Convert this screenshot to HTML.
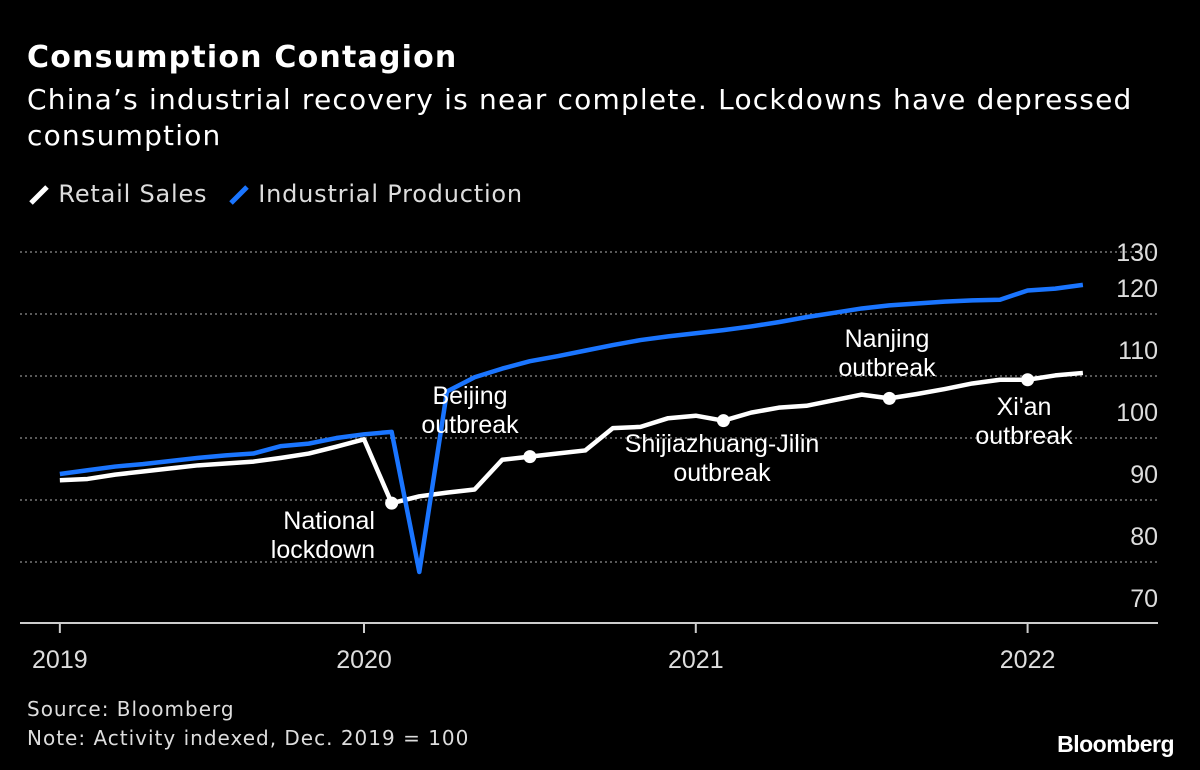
<!DOCTYPE html>
<html><head><meta charset="utf-8">
<style>
body{margin:0;background:#000;width:1200px;height:770px;overflow:hidden;font-family:"DejaVu Sans","Liberation Sans",sans-serif;color:#fff}
.t{position:absolute;white-space:nowrap}
</style></head>
<body>
<div class="t" style="left:27px;top:40px;font-size:30px;font-weight:bold;letter-spacing:1.2px">Consumption Contagion</div>
<div class="t" style="left:27px;top:82px;font-size:28px;line-height:36px;letter-spacing:1.2px">China’s industrial recovery is near complete. Lockdowns have depressed<br>consumption</div>
<div class="t" style="left:28px;top:180px;font-size:24px;color:#ddd;letter-spacing:0.8px">
<span><svg width="22" height="24" style="vertical-align:-4px"><line x1="3" y1="21" x2="19" y2="5" stroke="#fff" stroke-width="5"/></svg> Retail Sales</span>
<span style="margin-left:12px"><svg width="22" height="24" style="vertical-align:-4px"><line x1="3" y1="21" x2="19" y2="5" stroke="#1a75ff" stroke-width="5"/></svg> Industrial Production</span>
</div>
<svg id="chart" width="1200" height="770" style="position:absolute;left:0;top:0" font-family="'Liberation Sans Narrow','Liberation Sans',sans-serif"></svg>
<div class="t" style="left:27px;top:695px;font-size:20px;line-height:29px;color:#ddd;letter-spacing:1px">Source: Bloomberg<br>Note: Activity indexed, Dec. 2019 = 100</div>
<div class="t" style="right:26px;top:731px;font-size:23px;font-weight:bold;font-family:'Liberation Sans',sans-serif;letter-spacing:-0.5px">Bloomberg</div>
<script>
const months=[1,2,3,4,5,6,7,8,9,10,11,12,13,14,15,16,17,18,19,20,21,22,23,24,25,26,27,28,29,30,31,32,33,34,35,36,37,38];
const retail=[89.0,89.2,89.9,90.4,90.9,91.4,91.7,92.0,92.6,93.3,94.4,95.6,85.3,86.4,87.0,87.5,92.3,92.8,93.3,93.8,97.4,97.6,99.0,99.4,98.6,99.9,100.7,101.0,101.9,102.8,102.2,102.9,103.7,104.6,105.2,105.2,105.9,106.3];
const industrial=[90.0,90.6,91.2,91.6,92.1,92.6,93.0,93.3,94.5,94.9,95.8,96.4,96.8,74.2,103.3,105.6,107.0,108.2,109.0,109.9,110.8,111.6,112.2,112.7,113.2,113.8,114.5,115.3,116.0,116.7,117.2,117.5,117.8,118.0,118.1,119.6,119.9,120.5];
const yTicks=[130,120,110,100,90,80,70];
const xTickMonths=[1,12,24,36];
const xTickLabels=["2019","2020","2021","2022"];
const markerMonths=[13,18,25,31,36];
const annotations=[["National","lockdown"],["Beijing","outbreak"],["Shijiazhuang-Jilin","outbreak"],["Nanjing","outbreak"],["Xi'an","outbreak"]];

const NS="http://www.w3.org/2000/svg";
const svg=document.getElementById('chart');
const x=m=>364+(m-12)*27.65;
const y=v=>412-(v-100)*6.2;
function mk(tag,attrs){const e=document.createElementNS(NS,tag);for(const k in attrs)e.setAttribute(k,attrs[k]);svg.appendChild(e);return e;}
yTicks.forEach(v=>{
  if(v>70){const g=mk('line',{x1:20,x2:1158,y1:y(v)+26,y2:y(v)+26,stroke:'#777','stroke-width':1.5,'stroke-dasharray':'2,3'});
  
  }
  const t=mk('text',{x:1158,y:Math.max(y(v),252)+9,'text-anchor':'end',fill:'#ddd','font-size':25});
  t.textContent=v;
  
  
});
const ax=mk('line',{x1:20,x2:1158,y1:623,y2:623,stroke:'#ccc','stroke-width':2});


xTickMonths.forEach((m,i)=>{
  const tk=mk('line',{x1:x(m),x2:x(m),y1:623,y2:633,stroke:'#ccc','stroke-width':2});
  
  
  const t=mk('text',{x:x(m),y:668,'text-anchor':'middle',fill:'#ddd','font-size':25});
  t.textContent=xTickLabels[i];
  
  
});
function line(data,color,w,name){
  const p=mk('polyline',{points:data.map((v,i)=>x(months[i])+','+y(v)).join(' '),fill:'none',stroke:color,'stroke-width':w,'stroke-linejoin':'round'});
  
  
}
line(retail,'#fff',4.5,'retail-sales-line');
line(industrial,'#1a75ff',4.5,'industrial-production-line');
markerMonths.forEach(m=>{
  const c=mk('circle',{cx:x(m),cy:y(retail[months.indexOf(m)]),r:6.5,fill:'#fff'});
  
  
});
const annPos=[[375,529,'end'],[470,404,'middle'],[722,452,'middle'],[887,347,'middle'],[1024,415,'middle']];
annotations.forEach((a,i)=>{
  const [ax_,ay,anc]=annPos[i];
  const t=mk('text',{x:ax_,y:ay,'text-anchor':anc,fill:'#fff','font-size':25});
  
  
  a.forEach((s,j)=>{const ts=document.createElementNS(NS,'tspan');ts.setAttribute('x',ax_);ts.setAttribute('dy',j?29:0);ts.textContent=s;t.appendChild(ts);});
});
</script>
</body></html>
